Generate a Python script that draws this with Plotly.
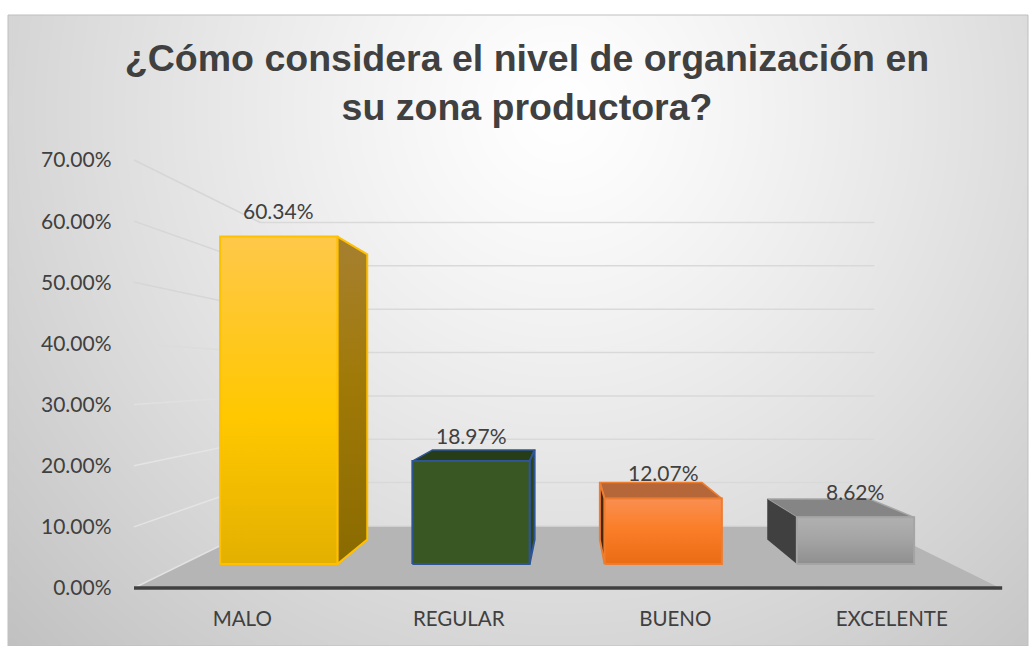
import numpy as np
import plotly.graph_objects as go

# ---- data ----
categories = ["MALO", "REGULAR", "BUENO", "EXCELENTE"]
values = [60.34, 18.97, 12.07, 8.62]
value_labels = ["60.34%", "18.97%", "12.07%", "8.62%"]
y_ticks = [0, 10, 20, 30, 40, 50, 60, 70]
y_tick_labels = ["0.00%", "10.00%", "20.00%", "30.00%", "40.00%", "50.00%", "60.00%", "70.00%"]
title_text = "<b>¿Cómo considera el nivel de organización en<br>su zona productora?</b>"

# ---- styles ----
FONT = "Lato"
TXT = "#404040"
front_colors = [
    [[0, "#E3B000"], [0.45, "#FFC800"], [1, "#FFC84A"]],
    [[0, "#385723"], [1, "#385723"]],
    [[0, "#EA6C14"], [0.55, "#FB7E28"], [1, "#F98F52"]],
    [[0, "#8F8F8F"], [0.55, "#A5A5A5"], [1, "#B0B0B0"]],
]
edge_colors = ["#FFC000", "#2F5597", "#ED7D31", "#A5A5A5"]
side_colors = [
    [[0, "#8A6A00"], [0.6, "#A07A08"], [1, "#A67F2C"]],
    [[0, "#2B4319"], [1, "#2B4319"]],
    [[0, "#4A2608"], [1, "#4A2608"]],
    [[0, "#404040"], [1, "#404040"]],
]
top_colors = ["#A67F2C", "#263D17", "#B5673A", "#858585"]
wall_grid_colors = ["#E2E2E2", "#E4E4E4", "#E4E4E4", "#E0E0E0", "#DCDCDC", "#D6D6D6", "#D6D6D6", "#D6D6D6"]

# ---- perspective of the 3-D frame (depth 0 = front edge, 1 = back wall) ----
DEPTH_SHRINK = 0.291
VANISH_X, VANISH_V = 2.005, 34.86
BAR_FRONT, BAR_BACK = 0.385, 0.78
BAR_WIDTH = 0.61


def proj(x, v, depth):
    k = 1 - DEPTH_SHRINK * depth
    return VANISH_X + (x - VANISH_X) * k, VANISH_V + (v - VANISH_V) * k


def poly(points):
    pts = [proj(*p) for p in points] + [proj(*points[0])]
    return [p[0] for p in pts], [p[1] for p in pts]


fig = go.Figure()

# page background of the chart area (radial grey), on its own pixel axes
bx = np.linspace(8, 1028, 121)
by = np.linspace(15, 646, 81)
cx = (bx[:-1] + bx[1:]) / 2
cy = (by[:-1] + by[1:]) / 2
gx, gy = np.meshgrid(cx, cy)
r = np.sqrt(((gx - 560) / 640) ** 2 + ((gy - 110) / 640) ** 2)
shade = 255 - 50 * np.clip(r, 0, 1.3) ** 1.2
fig.add_trace(go.Heatmap(x=bx, y=by, z=shade, zmin=0, zmax=255, zsmooth="best",
                         colorscale=[[0, "#000000"], [1, "#FFFFFF"]], showscale=False,
                         hoverinfo="skip", xaxis="x", yaxis="y"))

def face(points, fillcolor=None, gradient=None, line=None, lw=0):
    xs, ys = poly(points)
    kw = dict(fillgradient=gradient) if gradient else dict(fillcolor=fillcolor)
    fig.add_trace(go.Scatter(x=xs, y=ys, mode="lines", fill="toself",
                             line=dict(color=line or "rgba(0,0,0,0)", width=lw),
                             hoverinfo="skip", showlegend=False, xaxis="x2", yaxis="y2", **kw))


def seg(points, color, width):
    xs, ys = zip(*[proj(*p) for p in points])
    fig.add_trace(go.Scatter(x=xs, y=ys, mode="lines", line=dict(color=color, width=width),
                             hoverinfo="skip", showlegend=False, xaxis="x2", yaxis="y2"))


# floor
face([(0, 0, 0), (4, 0, 0), (4, 0, 1), (0, 0, 1)], fillcolor="#B5B5B5")
# gridlines: back wall and left wall
for n, tick in enumerate(y_ticks):
    seg([(0, tick, 1), (4, tick, 1)], "#D9D9D9", 1.5)
    seg([(0, tick, 0), (0, tick, 1)], wall_grid_colors[n], 1.5)

# bars
for i, v in enumerate(values):
    x0 = i + 0.5 - BAR_WIDTH / 2
    x1 = i + 0.5 + BAR_WIDTH / 2
    sx = x1 if x1 < VANISH_X else x0
    ys_front = [proj(x0, 0, BAR_FRONT)[1], proj(x0, v, BAR_FRONT)[1]]
    ys_back = [proj(sx, 0, BAR_BACK)[1], proj(sx, v, BAR_BACK)[1]]
    if v < VANISH_V:
        face([(x0, v, BAR_FRONT), (x1, v, BAR_FRONT), (x1, v, BAR_BACK), (x0, v, BAR_BACK)],
             fillcolor=top_colors[i], line=edge_colors[i], lw=1.5)
    face([(sx, 0, BAR_FRONT), (sx, v, BAR_FRONT), (sx, v, BAR_BACK), (sx, 0, BAR_BACK)],
         gradient=dict(type="vertical", colorscale=side_colors[i],
                       start=ys_front[0], stop=ys_back[1]),
         line=edge_colors[i], lw=2 if i < 3 else 0)
    face([(x0, 0, BAR_FRONT), (x1, 0, BAR_FRONT), (x1, v, BAR_FRONT), (x0, v, BAR_FRONT)],
         gradient=dict(type="vertical", colorscale=front_colors[i],
                       start=ys_front[0], stop=ys_front[1]),
         line=edge_colors[i], lw=2)

# axis line at the front edge of the floor
fig.add_trace(go.Scatter(x=[0, 4.01], y=[0, 0], mode="lines",
                         line=dict(color="#404040", width=3.5), hoverinfo="skip",
                         showlegend=False, xaxis="x2", yaxis="y2"))

# data labels
annotations = []
for i, v in enumerate(values):
    ax, ay = proj(i + 0.5, v, BAR_FRONT)
    annotations.append(dict(x=ax, y=ay, xref="x2", yref="y2", text=value_labels[i], showarrow=False,
                            yshift=26, font=dict(family=FONT, size=21, color=TXT)))

W, H = 1030, 646
PX_PER_X = 866 / 4
PX_PER_V = 428 / 70
X_MIN, X_MAX = -0.02, 4.05
V_MIN, V_MAX = -1.5, 70.5
fig.update_layout(
    width=W, height=H, autosize=False,
    margin=dict(l=0, r=0, t=0, b=0),
    paper_bgcolor="#FFFFFF", plot_bgcolor="rgba(0,0,0,0)",
    showlegend=False,
    title=dict(text=title_text, x=527 / W, xanchor="center", y=1 - 71 / H, yanchor="middle",
               font=dict(family="Liberation Sans", size=37.5, color=TXT)),
    xaxis=dict(domain=[0, 1], range=[0, W], visible=False, fixedrange=True, automargin=False),
    yaxis=dict(domain=[0, 1], range=[H, 0], visible=False, fixedrange=True, automargin=False),
    xaxis2=dict(domain=[(134 + X_MIN * PX_PER_X) / W, (134 + X_MAX * PX_PER_X) / W], range=[X_MIN, X_MAX],
                anchor="y2", automargin=False,
                tickmode="array", tickvals=[i + 0.5 for i in range(len(categories))], ticktext=categories,
                showgrid=False, zeroline=False, showline=False,
                ticks="outside", ticklen=3, tickcolor="rgba(0,0,0,0)",
                tickfont=dict(family=FONT, size=20.5, color=TXT)),
    yaxis2=dict(domain=[(H - 588 + V_MIN * PX_PER_V) / H, (H - 588 + V_MAX * PX_PER_V) / H], range=[V_MIN, V_MAX],
                anchor="x2", automargin=False,
                tickmode="array", tickvals=y_ticks, ticktext=y_tick_labels,
                showgrid=False, zeroline=False, showline=False,
                ticks="outside", ticklen=13, tickcolor="rgba(0,0,0,0)",
                tickfont=dict(family=FONT, size=21, color=TXT)),
    annotations=annotations,
    shapes=[dict(type="rect", xref="x", yref="y", x0=8, x1=1028, y0=15, y1=646,
                 line=dict(color="#BFBFBF", width=1), layer="above")],
)

fig.write_html("out.html", config={"displayModeBar": False},
               post_script="document.body.style.margin='0';document.body.style.overflow='hidden';")
